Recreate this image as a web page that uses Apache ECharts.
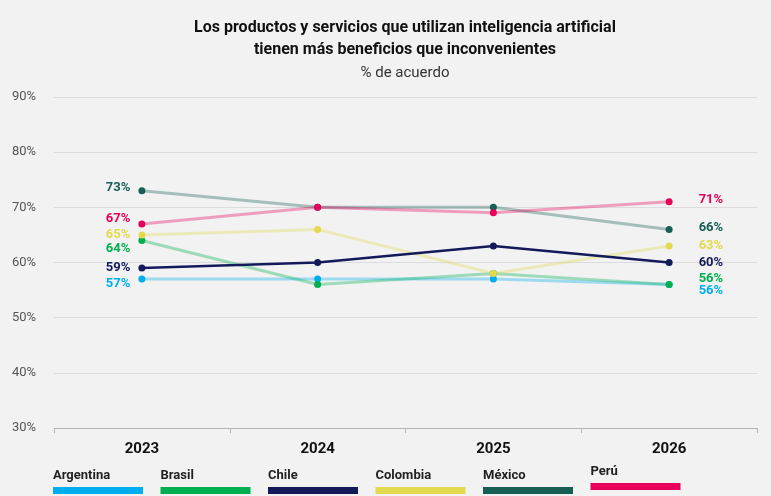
<!DOCTYPE html>
<html><head><meta charset="utf-8">
<script src="https://cdn.jsdelivr.net/npm/echarts@6/dist/echarts.min.js"></script>
<style>html,body{margin:0;padding:0;background:#f2f2f2}#c{width:771px;height:496px}</style>
</head><body><div id="c"></div>
<script>
var years = ['2023','2024','2025','2026'];
var names = ['Argentina','Brasil','Chile','Colombia','México','Perú'];
var colors = ['#00AEEF','#00B050','#14195A','#E3D94F','#175E54','#E8005A'];
var argentina = [57,57,57,56];
var brasil    = [64,56,58,56];
var chile     = [59,60,63,60];
var colombia  = [65,66,58,63];
var mexico    = [73,70,70,66];
var peru      = [67,70,69,71];
var yTicks = [30,40,50,60,70,80,90];
var values = [argentina,brasil,chile,colombia,mexico,peru];
// label vertical nudges (first point, last point)
var leftOff  = [5,8,0,0,-3,-5];
var rightOff = [6,-6,0,0,-2,-2];

var series = names.map(function(n,k){
  var vals = values[k], last = vals.length-1;
  var lbl = {show:true, color:colors[k], fontWeight:'bold', fontSize:13, fontFamily:'Roboto', formatter:'{c}%'};
  var data = vals.map(function(v,i){
    if(i===0) return {value:v, label:Object.assign({},lbl,{position:'left',distance:8,offset:[0,leftOff[k]]})};
    if(i===last) return {value:v, label:Object.assign({},lbl,{position:'right',distance:26,offset:[0,rightOff[k]]})};
    return v;
  });
  var isChile = n==='Chile';
  return {
    name:n, type:'line', data:data, symbol:'circle', symbolSize:7,
    z: isChile?5:2,
    itemStyle:{color:colors[k], opacity:1},
    lineStyle:{color:colors[k], width:isChile?2.5:3, opacity:isChile?1:0.35},
    label:{show:false},
    emphasis:{disabled:true}
  };
});

var graphic = [];
names.forEach(function(n,k){
  var x = 53 + k*107.5;
  var dy = n==='Perú' ? -4 : 0;
  graphic.push({type:'text', left:x, top:469+dy, style:{text:n, fill:'#222', font:'bold 13px Roboto, sans-serif'}});
  graphic.push({type:'rect', left:x, top:487+dy, shape:{width:90,height:7}, style:{fill:colors[k]}});
});

var chart = echarts.init(document.getElementById('c'));
chart.setOption({
  backgroundColor:'#f2f2f2',
  animation:false,
  title:{
    text:'Los productos y servicios que utilizan inteligencia artificial\ntienen más beneficios que inconvenientes',
    subtext:'% de acuerdo',
    left:400, textAlign:'center', top:12, itemGap:5,
    textStyle:{fontSize:16, fontWeight:'bold', color:'#111', lineHeight:22, fontFamily:'Roboto'},
    subtextStyle:{fontSize:15, color:'#333', fontFamily:'Roboto'}
  },
  grid:{left:54, right:14, top:97, bottom:68},
  xAxis:{
    type:'category', data:years, boundaryGap:true,
    axisLine:{lineStyle:{color:'#b5b5b5'}},
    axisTick:{show:true, length:5, lineStyle:{color:'#b5b5b5'}},
    axisLabel:{color:'#111', fontWeight:'bold', fontSize:15, margin:14, fontFamily:'Roboto'}
  },
  yAxis:{
    type:'value', min:yTicks[0], max:yTicks[yTicks.length-1], interval:10,
    axisLine:{show:false}, axisTick:{show:false},
    splitLine:{lineStyle:{color:'#dcdcdc'}},
    axisLabel:{formatter:'{value}%', color:'#555', fontSize:13, align:'left', margin:42, fontFamily:'Roboto'}
  },
  graphic:graphic,
  series:series
});
</script></body></html>
